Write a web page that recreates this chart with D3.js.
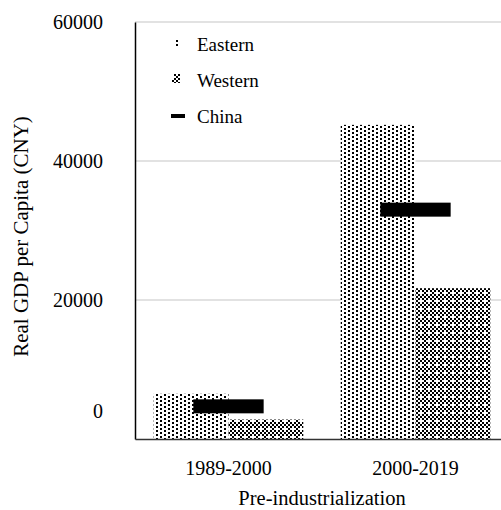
<!DOCTYPE html>
<html>
<head>
<meta charset="utf-8">
<script src="https://cdn.jsdelivr.net/npm/d3@7"></script>
<style>
  html, body { margin: 0; padding: 0; background: #fff; }
  svg { display: block; }
  text { font-family: "Liberation Serif", "Times New Roman", serif; fill: #000; }
</style>
</head>
<body>
<div id="chart"></div>
<script>
// ---- data ----
const categories = ["1989-2000", "2000-2019"];
const seriesNames = ["Eastern", "Western"];
const easternValues = [6500, 45200];
const westernValues = [2800, 21700];
const chinaValues = [4700, 33000];
const yTickValues = [0, 20000, 40000, 60000];
const yTickLabels = ["0", "20000", "40000", "60000"];
const legendLabels = ["Eastern", "Western", "China"];
const xTitle = "Pre-industrialization";
const yTitle = "Real GDP per Capita (CNY)";

(function () {
const W = 501, H = 510;
const mLeft = 135, mRight = 509, mTop = 22, mBottom = 439;

const svg = d3.select("#chart").append("svg").attr("width", W).attr("height", H);

// patterns
const defs = svg.append("defs");
const pE = defs.append("pattern").attr("id", "patE").attr("patternUnits", "userSpaceOnUse")
  .attr("width", 8).attr("height", 8);
pE.append("rect").attr("width", 8).attr("height", 8).attr("fill", "#fff");
[[0,0],[4,2],[0,4],[4,6]].forEach(([x,y]) =>
  pE.append("rect").attr("x", x).attr("y", y).attr("width", 2).attr("height", 2).attr("fill", "#000"));

const pW = defs.append("pattern").attr("id", "patW").attr("patternUnits", "userSpaceOnUse")
  .attr("width", 8).attr("height", 8);
pW.append("rect").attr("width", 8).attr("height", 8).attr("fill", "#fff");
for (let i = 0; i < 4; i++) for (let j = 0; j < 4; j++) {
  if ((i + j) % 2 === 0 && !(i === 2 && j === 2)) {
    pW.append("rect").attr("x", i*2).attr("y", j*2).attr("width", 2).attr("height", 2).attr("fill", "#000");
  }
}

// scales
const x0 = d3.scaleBand().domain(categories).range([mLeft, mRight]).paddingInner(0.2).paddingOuter(0.1);
const x1 = d3.scaleBand().domain(seriesNames).range([0, x0.bandwidth()]);
const y = d3.scaleLinear().domain([0, 60000]).range([mBottom, mTop]);

// gridlines
svg.append("g").selectAll("line").data(yTickValues.filter(v => v > 0)).join("line")
  .attr("x1", mLeft).attr("x2", mRight)
  .attr("y1", d => y(d)).attr("y2", d => y(d))
  .attr("stroke", "#d9d9d9").attr("stroke-width", 1.5);

// bars
const rows = categories.map((c, i) => ({ cat: c, Eastern: easternValues[i], Western: westernValues[i], China: chinaValues[i] }));
const g = svg.append("g");
rows.forEach(r => {
  seriesNames.forEach(s => {
    g.append("rect")
      .attr("x", x0(r.cat) + x1(s))
      .attr("y", y(r[s]))
      .attr("width", x1.bandwidth())
      .attr("height", y(0) - y(r[s]))
      .attr("fill", s === "Eastern" ? "url(#patE)" : "url(#patW)");
  });
});
// China markers
const chinaW = x1.bandwidth() * 0.94;
g.selectAll("rect.china").data(rows).join("rect").attr("class", "china")
  .attr("x", d => x0(d.cat) + x0.bandwidth() / 2 - chinaW / 2)
  .attr("y", d => y(d.China) - 7)
  .attr("width", chinaW).attr("height", 14).attr("fill", "#000");

// y axis
const yAxis = svg.append("g").attr("transform", `translate(${mLeft},0)`)
  .call(d3.axisLeft(y).tickValues(yTickValues).tickFormat((d, i) => yTickLabels[i]).tickSize(0).tickPadding(32));
yAxis.select(".domain").attr("stroke", "#000").attr("stroke-width", 1.5);
yAxis.selectAll("text").style("font-size", "20px").attr("font-family", "Liberation Serif")
  .attr("dy", d => d === 0 ? "-1.1em" : "0.32em");

// x axis
const xAxis = svg.append("g").attr("transform", `translate(0,${mBottom})`)
  .call(d3.axisBottom(x0).tickSize(0).tickPadding(22));
xAxis.select(".domain").attr("stroke", "#333").attr("stroke-width", 1.5);
xAxis.selectAll("text").style("font-size", "20px").attr("font-family", "Liberation Serif");

// titles
svg.append("text").attr("x", (x0(categories[0]) + x0(categories[1]) + x0.bandwidth()) / 2).attr("y", 505)
  .attr("text-anchor", "middle").style("font-size", "20.5px").text(xTitle);
svg.append("text").attr("transform", `translate(28,${(110 + 363) / 2}) rotate(-90)`)
  .attr("text-anchor", "middle").style("font-size", "21px").text(yTitle);

// legend
const lg = svg.append("g");
const ly = [44, 80, 116];
legendLabels.forEach((name, i) => {
  if (name === "Eastern") {
    lg.append("rect").attr("x", 174).attr("y", ly[i] - 6).attr("width", 6).attr("height", 10).attr("fill", "url(#patE)");
  } else if (name === "Western") {
    lg.append("rect").attr("x", 172).attr("y", ly[i] - 6).attr("width", 8).attr("height", 9).attr("fill", "url(#patW)");
  } else {
    lg.append("rect").attr("x", 171).attr("y", ly[i] - 2).attr("width", 14).attr("height", 4).attr("fill", "#000");
  }
  lg.append("text").attr("x", 197).attr("y", ly[i]).attr("dy", "0.35em").style("font-size", "19px").text(name);
});
})();
</script>
</body>
</html>
